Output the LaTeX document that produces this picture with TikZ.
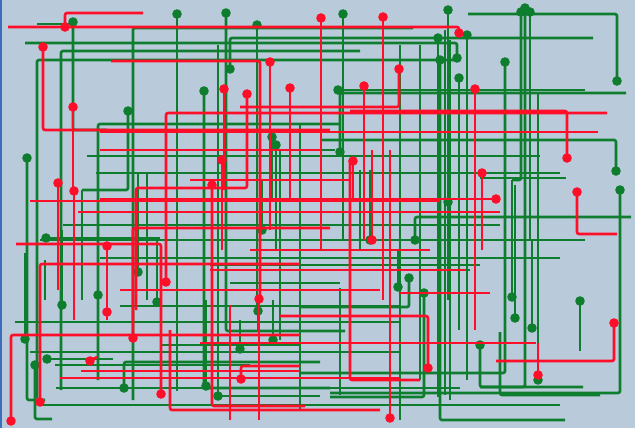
\documentclass[tikz,border=0pt]{standalone}
\definecolor{bgc}{RGB}{185,203,219}
\definecolor{gc}{RGB}{14,125,45}
\definecolor{rc}{RGB}{255,14,42}
\definecolor{edge}{RGB}{60,110,190}
\tikzset{
  gw/.style={draw=gc, line width=2.7pt, line join=round, rounded corners=2pt},
  rw/.style={draw=rc, line width=2.6pt, line join=round, rounded corners=2pt},
}
\newcommand\gdp[2]{\draw[gw] #1 #2; \fill[gc] #1 circle (4.8);}
\newcommand\rdp[2]{\draw[rw] #1 #2; \fill[rc] #1 circle (4.8);}
\newcommand\gln[1]{\draw[gw] #1;}
\newcommand\rln[1]{\draw[rw] #1;}
\begin{document}
\begin{tikzpicture}[x=1pt,y=-1pt]
\fill[bgc] (0,0) rectangle (635,428);
\useasboundingbox (0,0) rectangle (635,428);
% ---------- green plain lines ----------
\gln{(37,24) -- (73,24)}
\gln{(133,400) -- (133,28) -- (413,28)}
\gln{(61,390) -- (61,51) -- (360,51)}
\gln{(37,398) -- (37,60) -- (455,60)}
\gln{(218,45) -- (218,400)}
\gln{(98,380) -- (98,124) -- (340,124)}
\gln{(87,156) -- (540,156)}
\gln{(96,173) -- (560,173)}
\gln{(480,178) -- (566,178)}
\gln{(300,410) -- (300,125)}
\gln{(400,420) -- (400,45)}
\gln{(420,380) -- (420,45)}
\gln{(445,395) -- (445,30)}
\gln{(450,400) -- (450,40)}
\gln{(147,300) -- (147,173)}
\gln{(40,240) -- (585,240)}
\gln{(100,258) -- (560,258)}
\gln{(120,306) -- (400,306)}
\gln{(15,322) -- (400,322)}
\gln{(30,352) -- (400,352)}
\gln{(56,388) -- (460,388)}
\gln{(40,405) -- (560,405)}
\gln{(120,200) -- (420,200)}
\gln{(63,225) -- (500,225)}
\gln{(230,283) -- (340,283)}
\gln{(500,332) -- (500,395) -- (600,395)}
\gln{(340,288) -- (340,395)}
\gln{(360,170) -- (360,250)}
\gln{(370,270) -- (470,270)}
\gln{(280,150) -- (280,340)}
\gln{(45,300) -- (45,260)}
\gln{(82,190) -- (82,300)}
\gln{(240,150) -- (335,150)}
\gln{(210,265) -- (480,265)}
\gln{(160,345) -- (300,345)}
\gln{(55,365) -- (250,365)}
% ---------- green wires with dots ----------
\gdp{(73,22)}{-- (73,130) -- (107,130)}
\gdp{(177,14)}{-- (177,391)}
\gdp{(226,13)}{-- (226,331) -- (345,331)}
\gdp{(257,25)}{-- (257,311)}
\gdp{(258,311)}{-- (258,330)}
\gdp{(230,69)}{-- (230,38) -- (593,38)}
\gdp{(204,91)}{-- (204,388) -- (330,388)}
\gdp{(128,111)}{-- (128,190) -- (82,190)}
\gdp{(27,158)}{-- (27,400) -- (45,400)}
\gdp{(343,14)}{-- (343,240)}
\gdp{(438,38)}{-- (438,397)}
\gdp{(440,60)}{-- (440,420) -- (565,420)}
\gdp{(457,58)}{-- (457,43) -- (25,43)}
\gdp{(459,78)}{-- (459,330)}
\gdp{(467,35)}{-- (467,380)}
\gdp{(505,62)}{-- (505,373) -- (300,373)}
\gdp{(617,81)}{-- (617,14) -- (468,14)}
\gdp{(525,8)}{-- (525,387) -- (480,387)}
\gdp{(521,12)}{-- (521,180) -- (512,180)}
\gdp{(512,297)}{-- (512,180)}
\gdp{(530,12)}{-- (530,240)}
\gdp{(532,328)}{-- (532,240)}
\gdp{(538,380)}{-- (538,93)}
\gdp{(515,318)}{-- (515,185)}
\gdp{(340,152)}{-- (340,93) -- (626,93)}
\gdp{(448,10)}{-- (448,300)}
\gdp{(338,90)}{-- (585,90)}
\gdp{(616,171)}{-- (616,140) -- (320,140)}
\gdp{(620,190)}{-- (620,393) -- (330,393)}
\gdp{(415,240)}{-- (415,217) -- (631,217)}
\gdp{(448,202)}{-- (448,230)}
\gdp{(580,301)}{-- (580,351)}
\gdp{(480,345)}{-- (480,387) -- (583,387)}
\gdp{(409,278)}{-- (409,307) -- (300,307)}
\gdp{(398,287)}{-- (398,250)}
\gdp{(424,293)}{-- (424,397) -- (330,397)}
\gdp{(272,137)}{-- (272,200)}
\gdp{(276,145)}{-- (276,250)}
\gdp{(46,238)}{-- (160,238)}
\gdp{(138,272)}{-- (138,173)}
\gdp{(98,295)}{-- (98,250)}
\gdp{(62,305)}{-- (62,230)}
\gdp{(157,302)}{-- (157,240)}
\gdp{(25,339)}{-- (25,253)}
\gdp{(35,365)}{-- (35,419) -- (52,419)}
\gdp{(47,359)}{-- (113,359)}
\gdp{(124,388)}{-- (124,362) -- (320,362)}
\gdp{(240,349)}{-- (240,320)}
\gdp{(273,340)}{-- (273,300)}
\gdp{(206,386)}{-- (206,300)}
\gdp{(218,396)}{-- (320,396)}
\gdp{(370,240)}{-- (370,170)}
\gdp{(262,230)}{-- (262,180)}
% ---------- red plain lines ----------
\rln{(100,132) -- (598,132)}
\rln{(30,201) -- (440,201)}
\rln{(78,212) -- (500,212)}
\rln{(100,150) -- (320,150)}
\rln{(536,343) -- (200,343)}
\rln{(400,293) -- (490,293)}
\rln{(81,371) -- (300,371)}
\rln{(210,270) -- (465,270)}
\rln{(120,290) -- (380,290)}
\rln{(190,180) -- (350,180)}
\rln{(230,305) -- (230,420)}
\rln{(350,160) -- (350,380) -- (420,380)}
\rln{(60,378) -- (400,378)}
\rln{(250,250) -- (430,250)}
\rln{(170,330) -- (170,410) -- (380,410)}
% ---------- red wires with dots ----------
\rdp{(459,33)}{-- (459,27) -- (8,27)}
\rdp{(65,27)}{-- (65,13) -- (143,13)}
\rdp{(43,47)}{-- (43,130) -- (330,130)}
\rdp{(270,62)}{-- (270,230)}
\rln{(111,61) -- (260,61) -- (260,300)}
\rdp{(321,18)}{-- (321,250)}
\rdp{(383,17)}{-- (383,300)}
\rdp{(399,69)}{-- (399,107) -- (240,107)}
\rdp{(364,86)}{-- (364,240)}
\rdp{(475,89)}{-- (475,330)}
\rdp{(290,88)}{-- (290,200)}
\rdp{(247,94)}{-- (247,188) -- (136,188) -- (136,310)}
\rdp{(224,89)}{-- (224,190)}
\rdp{(222,160)}{-- (222,250)}
\rdp{(212,185)}{-- (212,406) -- (305,406)}
\rdp{(58,183)}{-- (58,290)}
\rdp{(74,191)}{-- (74,320)}
\rdp{(73,107)}{-- (73,190)}
\rdp{(166,282)}{-- (166,113) -- (607,113)}
\rdp{(567,158)}{-- (567,111) -- (350,111)}
\rdp{(482,173)}{-- (482,250)}
\rdp{(577,192)}{-- (577,234) -- (617,234)}
\rdp{(614,323)}{-- (614,361) -- (496,361)}
\rdp{(107,246)}{-- (107,312)}
\rdp{(107,312)}{-- (107,320)}
\rln{(16,244) -- (161,244) -- (161,394)}
\fill[rc] (161,394) circle (4.8);
\rdp{(11,421)}{-- (11,335) -- (300,335)}
\rdp{(40,402)}{-- (40,264) -- (300,264)}
\rdp{(133,338)}{-- (133,228) -- (330,228)}
\rdp{(90,361)}{-- (97,357)}
\rdp{(259,299)}{-- (259,420)}
\rdp{(241,379)}{-- (241,366) -- (300,366)}
\rdp{(390,418)}{-- (390,150)}
\rdp{(428,368)}{-- (428,316) -- (280,316)}
\rdp{(353,161)}{-- (353,200)}
\rdp{(372,240)}{-- (372,150)}
\rdp{(538,375)}{-- (538,343)}
\rdp{(496,199)}{-- (100,199)}
\draw[edge, line width=1.5pt] (0.75,0) -- (0.75,428);
\end{tikzpicture}
\end{document}
